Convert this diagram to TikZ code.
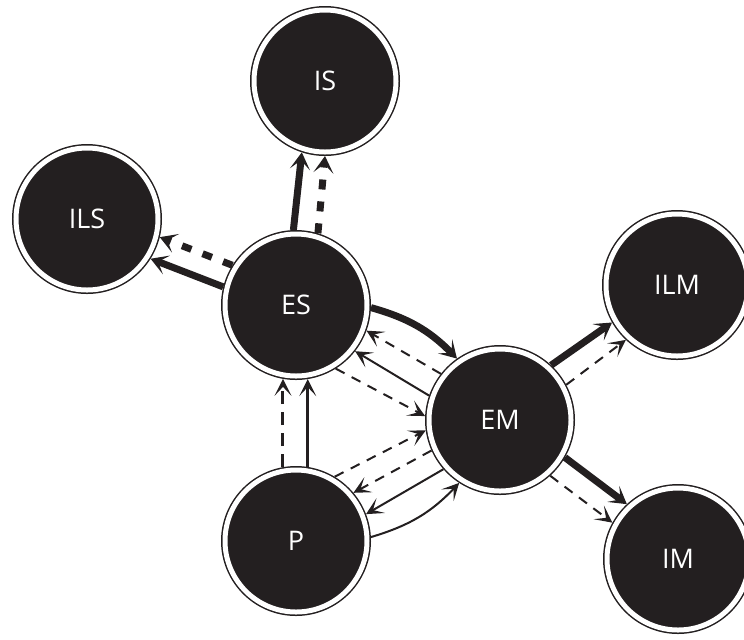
\documentclass[tikz,border=0pt]{standalone}
\usepackage{fontspec}
\setmainfont{Open Sans}
\usetikzlibrary{arrows.meta}
\definecolor{disk}{HTML}{231F20}

\begin{document}
\begin{tikzpicture}[x=0.5pt, y=-0.5pt,
		state/.style={circle, fill=disk, draw=disk, double=white, double distance=2.5pt,
			line width=0.75pt, minimum size=71pt, inner sep=0pt, outer sep=2pt,
			text=white, font=\fontsize{13.5}{16}\selectfont},
		thickline/.style={disk, line width=3.5pt, -{Stealth[length=8.5pt, width=10pt, inset=4.5pt]}},
		thickdash/.style={thickline, dash pattern=on 5pt off 6pt},
		midline/.style={disk, line width=1.5pt, -{Stealth[length=8.5pt, width=8.5pt, inset=4.5pt]}},
		middash/.style={midline, dash pattern=on 6.5pt off 4pt},
		thinline/.style={disk, line width=1pt, -{Stealth[length=8.5pt, width=8.5pt, inset=4.5pt]}},
		thindash/.style={thinline, dash pattern=on 5pt off 4pt}]
	\useasboundingbox (0,0) rectangle (744,639);
	
	% states
	\node[state] (IS)  at (325,81)  {IS};
	\node[state] (ILS) at (87,219)  {ILS};
	\node[state] (ES)  at (296,305) {ES};
	\node[state] (ILM) at (677,285) {ILM};
	\node[state] (EM)  at (500,420) {EM};
	\node[state] (P)   at (296,541) {P};
	\node[state] (IM)  at (678,559) {IM};
	
	% around ES
	\draw[thickline] (ES.92) -- (IS.-108);
	\draw[thickdash] (ES.73) -- (IS.-90);
	\draw[thickline] (ES.166) -- (ILS.-32);
	\draw[thickdash] (ES.148) -- (ILS.-14);
	\draw[thickline] (ES.-2) to[bend left=15] (EM.125);
	\draw[thindash] (EM.142) -- (ES.-20);
	\draw[thinline] (EM.161) -- (ES.-38);
	\draw[thindash] (ES.-58) -- (EM.177);
	
	% around P
	\draw[thindash] (P.59) -- (EM.-172);
	\draw[thindash] (EM.-156) -- (P.40);
	\draw[thinline] (EM.-139) -- (P.21);
	\draw[thinline] (P.3) to[bend right=15] (EM.-123);
	\draw[middash] (P.100) -- (ES.-100);
	\draw[midline] (P.81) -- (ES.-81);
	
	% out of EM
	\draw[thickline] (EM.47) -- (ILM.-150);
	\draw[thindash] (EM.28) -- (ILM.-133);
	\draw[thickline] (EM.-30) -- (IM.133);
	\draw[thindash] (EM.-48) -- (IM.151);
\end{tikzpicture}
\end{document}
